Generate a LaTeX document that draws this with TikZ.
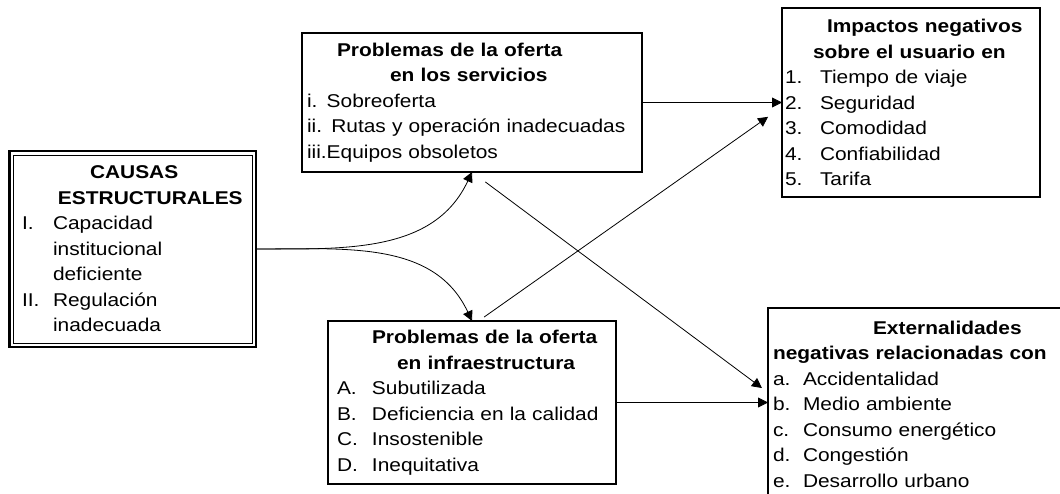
\documentclass[tikz,border=0pt]{standalone}
\usepackage{fontspec}
\setmainfont{Liberation Sans}[FakeStretch=1.13]
\usetikzlibrary{positioning,arrows.meta}

% title line with indent, item line with label column
\newcommand\ttl[2][0pt]{\hspace*{#1}\textbf{#2}}
\newcommand\itm[3][35pt]{\makebox[#1][l]{#2}#3}

\tikzset{
  box/.style={draw, line width=1.2pt, anchor=north west, align=left,
    inner ysep=0pt, outer sep=0pt, font={\fontsize{18.5}{25.5}\selectfont}},
  arr/.style={-{Triangle[length=10pt,width=10pt]}, line width=0.8pt},
}

\begin{document}
\begin{tikzpicture}[x=1pt, y=-1pt]
    \useasboundingbox (0,0) rectangle (1060,493);
    \clip (0,0) rectangle (1060,493);

    \node[box, line width=2.5pt, inner xsep=12.5pt, text width=221.5pt, minimum height=196pt] (causas) at (9.5,151)
      {\ttl[68pt]{CAUSAS}\\ \ttl[36pt]{ESTRUCTURALES}\\
       \itm[31pt]{I.}{Capacidad}\\ \hspace*{31pt}institucional\\ \hspace*{31pt}deficiente\\
       \itm[31pt]{II.}{Regulación}\\ \hspace*{31pt}inadecuada};
    \draw[line width=1pt] ([shift={(4pt,-4pt)}]causas.north west) rectangle ([shift={(-4pt,4pt)}]causas.south east);

    \node[box, inner xsep=5pt, text width=330pt, minimum height=139pt] (serv) at (302,33)
      {\ttl[30pt]{Problemas de la oferta}\\ \ttl[83pt]{en los servicios}\\
       i. Sobreoferta\\ ii. Rutas y operación inadecuadas\\ iii.Equipos obsoletos};

    \node[box, inner xsep=3pt, text width=252pt, minimum height=189pt] (impact) at (782,8)
      {\ttl[42pt]{Impactos negativos}\\ \ttl[28pt]{sobre el usuario en}\\
       \itm{1.}{Tiempo de viaje}\\ \itm{2.}{Seguridad}\\ \itm{3.}{Comodidad}\\
       \itm{4.}{Confiabilidad}\\ \itm{5.}{Tarifa}};

    \node[box, inner xsep=9pt, text width=270pt, minimum height=163pt] (infra) at (328,321)
      {\ttl[35pt]{Problemas de la oferta}\\ \ttl[60pt]{en infraestructura}\\
       \itm{A.}{Subutilizada}\\ \itm{B.}{Deficiencia en la calidad}\\
       \itm{C.}{Insostenible}\\ \itm{D.}{Inequitativa}};

    \node[box, draw=none, inner xsep=5pt, inner ysep=13pt, text width=288pt] (extern) at (768,308)
      {\ttl[100pt]{Externalidades}\\ \ttl{negativas relacionadas con}\\
       \itm[30pt]{a.}{Accidentalidad}\\ \itm[30pt]{b.}{Medio ambiente}\\
       \itm[30pt]{c.}{Consumo energético}\\ \itm[30pt]{d.}{Congestión}\\
       \itm[30pt]{e.}{Desarrollo urbano}};
    \draw[line width=1.2pt] (extern.north west) rectangle ([yshift=-250pt]extern.north east);

    % connectors
    \draw[arr] (causas.east) to[out=0, in=-115] (serv.south);
    \draw[arr] (causas.east) to[out=0, in=115] (infra.north);
    \draw[arr] (serv.east) -- (serv.east -| impact.west);
    \draw[arr, shorten <=7pt, shorten >=17pt] ([xshift=6.5pt]infra.north) -- ([yshift=-4.5pt]impact.west);
    \draw[arr, shorten <=16.6pt, shorten >=7.5pt] (serv.south) -- ([yshift=-84.5pt]extern.north west);
    \draw[arr] (infra.east) -- (infra.east -| extern.west);
\end{tikzpicture}
\end{document}
